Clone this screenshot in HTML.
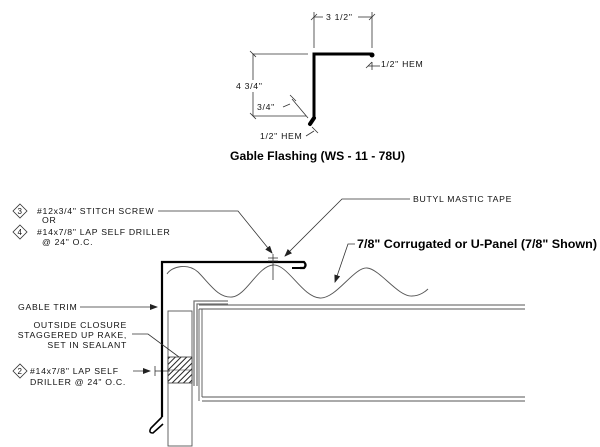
<!DOCTYPE html>
<html><head><style>
html,body{margin:0;padding:0;background:#fff}
svg{display:block}
text{font-family:"Liberation Sans",sans-serif;fill:#111}
.c{font-size:8.7px;letter-spacing:0.7px}
.b{font-weight:bold;font-size:12px;fill:#000}
</style></head><body>
<svg width="600" height="447" viewBox="0 0 600 447" xmlns="http://www.w3.org/2000/svg">
<defs>
<pattern id="h" width="4" height="4" patternUnits="userSpaceOnUse" patternTransform="rotate(45)">
<rect width="4" height="4" fill="#fff"/><line x1="0" y1="0" x2="0" y2="4" stroke="#222" stroke-width="2"/></pattern>
<marker id="a" markerWidth="8" markerHeight="6" refX="7" refY="3" orient="auto" markerUnits="userSpaceOnUse"><path d="M0,0 L8,3 L0,6z" fill="#222"/></marker>
</defs>
<g stroke="#333" stroke-width="0.8" fill="none">
<line x1="314" y1="12" x2="314" y2="48"/><line x1="372" y1="12" x2="372" y2="48"/>
<line x1="314" y1="17" x2="323" y2="17"/><line x1="358" y1="17" x2="372" y2="17"/>
<line x1="311" y1="20" x2="317" y2="14"/><line x1="369" y1="20" x2="375" y2="14"/>
<line x1="253" y1="54" x2="308" y2="54"/><line x1="253" y1="116" x2="306" y2="116"/>
<line x1="253" y1="54" x2="253" y2="80"/><line x1="253" y1="92" x2="253" y2="116"/>
<line x1="250" y1="51" x2="256" y2="57"/><line x1="250" y1="113" x2="256" y2="119"/>
<line x1="292" y1="99" x2="308" y2="118"/><line x1="290" y1="95" x2="296" y2="101"/>
<line x1="283" y1="107" x2="290" y2="104"/>
<line x1="368" y1="66" x2="380" y2="66"/><line x1="366" y1="68" x2="372" y2="62"/><line x1="372" y1="62" x2="372" y2="70"/>
<line x1="306" y1="136" x2="314" y2="131"/><line x1="312" y1="127" x2="318" y2="133"/>
</g>
<path d="M314,118 L314,54 L372,54" stroke="#000" stroke-width="3" fill="none"/>
<circle cx="372" cy="55" r="2.5" fill="#000"/>
<path d="M314,118 L310,124" stroke="#000" stroke-width="4" stroke-linecap="round"/>
<text class="c" x="326" y="20">3 1/2"</text>
<text class="c" x="236" y="89">4 3/4"</text>
<text class="c" x="257" y="110">3/4"</text>
<text class="c" x="381" y="67">1/2" HEM</text>
<text class="c" x="260" y="139">1/2" HEM</text>
<text class="b" x="230" y="160" textLength="175" lengthAdjust="spacingAndGlyphs">Gable Flashing (WS - 11 - 78U)</text>

<g stroke="#555" fill="none" stroke-width="0.9">
<path d="M167,274 C172,266 188,263 198,272 C210,284 218,298 232,297 C246,296 258,266 273,265 C288,264 302,297 320,298 C336,299 354,267 367,268 C380,269 398,297 412,296 C420,296 426,291 428,289"/>
<line x1="199" y1="305" x2="525" y2="305"/><line x1="199" y1="309" x2="525" y2="309"/>
<line x1="202" y1="397" x2="525" y2="397"/><line x1="202" y1="401" x2="525" y2="401"/>
<line x1="199" y1="309" x2="199" y2="401"/><line x1="202" y1="309" x2="202" y2="397"/>
<path d="M194,386 L194,301 L228,301 M197,386 L197,304 L228,304" stroke="#777" stroke-width="1.3"/>
<rect x="168" y="311" width="24" height="135"/>
</g>
<rect x="168" y="357" width="24" height="26" fill="url(#h)" stroke="#333" stroke-width="0.8"/>
<line x1="168" y1="370" x2="192" y2="370" stroke="#333" stroke-width="0.6"/>
<line x1="155" y1="371" x2="170" y2="371" stroke="#333" stroke-width="0.8"/><line x1="155" y1="366" x2="155" y2="376" stroke="#333" stroke-width="0.8"/>
<path d="M300,268 L292,268" stroke="#000" stroke-width="2"/>
<path d="M162,417 L162,262 L304,262 Q307,265 304,268 L300,268" stroke="#000" stroke-width="2.2" fill="none"/>
<path d="M162,417 L151,428 Q148,433 153,433 L163,424" stroke="#000" stroke-width="1.6" fill="none"/>
<g stroke="#333" stroke-width="0.8" fill="none">
<line x1="273" y1="254" x2="273" y2="280"/><line x1="268" y1="258" x2="278" y2="258"/><line x1="268" y1="261" x2="278" y2="261"/>
<polyline points="158,211 238,211 272,253" marker-end="url(#a)"/>
<polyline points="410,199 342,199 285,256" marker-end="url(#a)"/>
<polyline points="355,244 348,244 335,282" marker-end="url(#a)"/>
<line x1="80" y1="307" x2="157" y2="307" marker-end="url(#a)"/>
<polyline points="132,334 148,334 179,357"/>
<line x1="133" y1="371" x2="150" y2="371" marker-end="url(#a)"/>
<path d="M20,204 L27,211 L20,218 L13,211z"/><path d="M20,225 L27,232 L20,239 L13,232z"/><path d="M13,371 L20,364 L27,371 L20,378z"/>
</g>
<text class="c" x="17.5" y="214" style="font-size:8px">3</text>
<text class="c" x="17.5" y="235" style="font-size:8px">4</text>
<text class="c" x="17.5" y="374" style="font-size:8px">2</text>
<text class="c" x="37" y="214">#12x3/4" STITCH SCREW</text>
<text class="c" x="42" y="223">OR</text>
<text class="c" x="37" y="235">#14x7/8" LAP SELF DRILLER</text>
<text class="c" x="42" y="245">@ 24" O.C.</text>
<text class="c" x="413" y="202">BUTYL MASTIC TAPE</text>
<text class="b" x="357" y="248" textLength="240" lengthAdjust="spacingAndGlyphs">7/8" Corrugated or U-Panel (7/8" Shown)</text>
<text class="c" x="18" y="310">GABLE TRIM</text>
<text class="c" x="127" y="328" text-anchor="end">OUTSIDE CLOSURE</text>
<text class="c" x="127" y="338" text-anchor="end">STAGGERED UP RAKE,</text>
<text class="c" x="127" y="348" text-anchor="end">SET IN SEALANT</text>
<text class="c" x="30" y="374">#14x7/8" LAP SELF</text>
<text class="c" x="30" y="385">DRILLER @ 24" O.C.</text>
</svg>
</body></html>
